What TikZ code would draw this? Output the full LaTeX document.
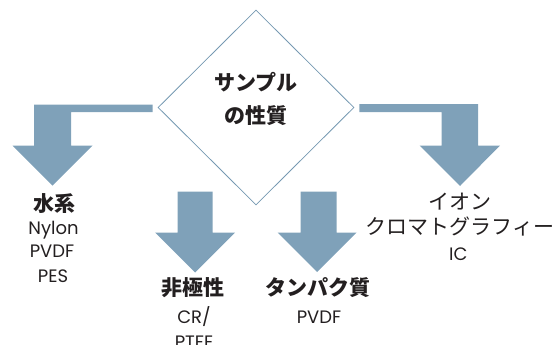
\documentclass[tikz,border=0pt]{standalone}
\usepackage{fontspec}
\setmainfont{Poppins}
\newfontfamily\jp{Noto Sans CJK JP}
\usetikzlibrary{shapes.geometric,calc}
\definecolor{arrowc}{RGB}{127,161,185}
\definecolor{linec}{RGB}{118,153,178}
\definecolor{txt}{RGB}{35,31,32}
\begin{document}
\begin{tikzpicture}[x=1pt,y=-1pt,
  jpl/.style={anchor=base,inner sep=0pt,text=txt,font=\jp\bfseries\fontsize{21}{21}\selectfont},
  jpr/.style={anchor=base,inner sep=0pt,text=txt,font=\jp\fontsize{21}{21}\selectfont},
  lat/.style={anchor=base,inner sep=0pt,text=txt,font=\fontsize{18}{18}\selectfont},
  blk/.style={fill=arrowc,draw=none}]
\useasboundingbox (0,0) rectangle (557,345);
% central diamond
\node[diamond, draw=linec, line width=0.8pt, minimum width=196pt, minimum height=195pt, inner sep=0pt] (d) at (256,107.5) {};
\node[jpl] (t1) at (256,90.5) {サンプル};
\node[jpl] (t2) at (256,123.5) {の性質};
% left elbow arrow
\fill[blk] ($(d.west)+(-5,-3)$) -- (34,104.5) -- (34,145.5) -- (12.5,145.5) -- (52.5,185.5) -- (92.5,145.5) -- (71,145.5) -- (71,112) -- ($(d.west)+(-5,4.5)$) -- cycle;
% right elbow arrow
\fill[blk] ($(d.east)+(5,-3.5)$) -- (478,104) -- (478,145.5) -- (500,145.5) -- (460,186) -- (419.5,145.5) -- (441.5,145.5) -- (441.5,112) -- ($(d.east)+(5,4.5)$) -- cycle;
% lower arrows
\fill[blk] (177.5,191.5) -- (212.5,191.5) -- (212.5,232.5) -- (235,232.5) -- (195,272.5) -- (155,232.5) -- (177.5,232.5) -- cycle;
\fill[blk] (300.5,191.5) -- (336.5,191.5) -- (336.5,232.5) -- (356.5,232.5) -- (317,272) -- (277.5,232.5) -- (300.5,232.5) -- cycle;
% labels
\node[jpl] (l1) at (54,211) {水系};
\node[lat] (l2) at (53.5,234.5) {Nylon};
\node[lat] (l3) at (52,257.5) {PVDF};
\node[lat] (l4) at (53,282) {PES};
\node[jpl] (n1) at (193,295.2) {非極性};
\node[lat] (n2) at (194,323.3) {CR/};
\node[lat] (n3) at (194,348.5) {PTFE};
\node[jpl] (p1) at (318.3,295.2) {タンパク質};
\node[lat] (p2) at (319,323.3) {PVDF};
\node[jpr] (r1) at (460,209) {イオン};
\node[jpr] (r2) at (460,234) {クロマトグラフィー};
\node[lat] (r3) at (458.3,260) {IC};
\end{tikzpicture}
\end{document}
